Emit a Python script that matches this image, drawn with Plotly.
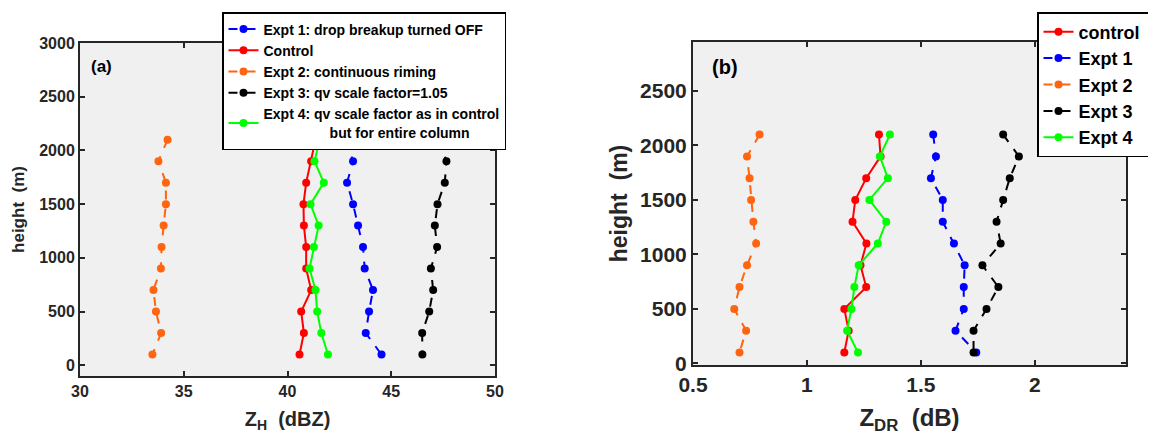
import plotly.graph_objects as go

# ---------------- data ----------------
heights = [2100, 1900, 1700, 1500, 1300, 1100, 900, 700, 500, 300, 100]

# Panel (a): Z_H (dBZ)
zh_expt1 = [42.80, 43.16, 42.87, 43.16, 43.40, 43.64, 43.72, 44.12, 43.93, 43.77, 44.53]
zh_control = [41.35, 41.14, 40.90, 40.77, 40.79, 40.90, 40.90, 41.14, 40.66, 40.79, 40.58]
zh_expt2 = [34.22, 33.78, 34.14, 34.14, 34.03, 33.93, 33.90, 33.54, 33.66, 33.91, 33.49]
zh_expt3 = [47.31, 47.66, 47.58, 47.23, 47.10, 47.21, 46.91, 47.02, 46.83, 46.49, 46.50]
zh_expt4 = [41.55, 41.30, 41.75, 41.11, 41.50, 41.27, 41.06, 41.35, 41.43, 41.63, 41.95]

# Panel (b): Z_DR (dB)
zdr_control = [1.316, 1.323, 1.260, 1.212, 1.200, 1.261, 1.235, 1.260, 1.164, 1.183, 1.164]
zdr_expt1 = [1.554, 1.566, 1.544, 1.596, 1.596, 1.645, 1.692, 1.688, 1.688, 1.652, 1.743]
zdr_expt2 = [0.792, 0.737, 0.748, 0.755, 0.765, 0.777, 0.737, 0.704, 0.681, 0.733, 0.704]
zdr_expt3 = [1.861, 1.930, 1.890, 1.861, 1.832, 1.850, 1.770, 1.840, 1.788, 1.731, 1.731]
zdr_expt4 = [1.364, 1.320, 1.355, 1.274, 1.348, 1.311, 1.227, 1.208, 1.195, 1.176, 1.224]

NB = "\u00a0"
names_a = ["Expt 1: drop breakup turned OFF", "Control", "Expt 2: continuous riming",
           "Expt 3: qv scale factor=1.05",
           "Expt 4: qv scale factor as in control<br>" + NB * 17 + "but for entire column"]
names_b = ["control" + NB * 3, "Expt 1", "Expt 2", "Expt 3", "Expt 4"]

xticks_a = [30, 35, 40, 45, 50]
yticks_a = [0, 500, 1000, 1500, 2000, 2500, 3000]
xticks_b = [0.5, 1, 1.5, 2]
yticks_b = [0, 500, 1000, 1500, 2000, 2500]

RED, BLUE, ORANGE, BLACK, GREEN = "#ff0000", "#0000ff", "#ff6410", "#000000", "#00ff00"
FONT = "Liberation Sans, Arial, sans-serif"
AX = "#262626"

fig = go.Figure()

def add(x, name, color, dash, xa, ya, legend):
    fig.add_trace(go.Scatter(
        x=x, y=heights, name=name, mode="lines+markers",
        line=dict(color=color, width=2, dash=dash),
        marker=dict(color=color, size=8, symbol="circle"),
        xaxis=xa, yaxis=ya, legend=legend))

add(zh_expt1, names_a[0], BLUE, "dash", "x", "y", "legend")
add(zh_control, names_a[1], RED, "solid", "x", "y", "legend")
add(zh_expt2, names_a[2], ORANGE, "dash", "x", "y", "legend")
add(zh_expt3, names_a[3], BLACK, "dash", "x", "y", "legend")
add(zh_expt4, names_a[4], GREEN, "solid", "x", "y", "legend")

add(zdr_control, names_b[0], RED, "solid", "x2", "y2", "legend2")
add(zdr_expt1, names_b[1], BLUE, "dash", "x2", "y2", "legend2")
add(zdr_expt2, names_b[2], ORANGE, "dash", "x2", "y2", "legend2")
add(zdr_expt3, names_b[3], BLACK, "dash", "x2", "y2", "legend2")
add(zdr_expt4, names_b[4], GREEN, "solid", "x2", "y2", "legend2")

# page has an 8px body margin; map target page pixels to paper fractions
OFF = 8
W, H = 1156 - OFF, 439 - OFF
def fx(px):
    return (px - OFF) / W
def fy(py):
    return (439 - py) / H

def axis(domain, rng, tickvals, size, anchor, title, tsize, standoff):
    return dict(domain=domain, range=rng, tickvals=tickvals, ticks="inside", ticklen=5,
                tickwidth=1.5, tickcolor=AX, showline=True, linecolor=AX, linewidth=2,
                mirror="ticks", showgrid=False, zeroline=False, anchor=anchor,
                automargin=False,
                tickfont=dict(family=FONT, size=size, color=AX, weight="bold"),
                title=dict(text=title, standoff=standoff,
                           font=dict(family=FONT, size=tsize, color=AX, weight="bold")))

fig.update_layout(
    width=W, height=H,
    margin=dict(l=0, r=0, t=0, b=0, autoexpand=False),
    paper_bgcolor="white", plot_bgcolor="#f0f0f0",
    xaxis=axis([fx(80), fx(495)], [30, 50], xticks_a, 16, "y",
               "Z<sub>H</sub>" + NB * 2 + "(dBZ)", 20, 13),
    yaxis=axis([fy(376), fy(43)], [-100, 3000], yticks_a, 16, "x",
               "height" + NB * 2 + "(m)", 17, 10),
    xaxis2=axis([fx(693), fx(1126)], [0.5, 2.4], xticks_b, 21, "y2",
                "Z<sub>DR</sub>" + NB * 2 + "(dB)", 24, 14),
    yaxis2=axis([fy(365), fy(42)], [-15, 2950], yticks_b, 21, "x2",
                "height" + NB * 2 + "(m)", 23, 6),
    legend=dict(x=fx(222), y=fy(12), xanchor="left", yanchor="top",
                bgcolor="white", bordercolor="#000000", borderwidth=1.5,
                font=dict(family=FONT, size=14, color="#000000", weight="bold"),
                traceorder="normal", tracegroupgap=0),
    legend2=dict(x=fx(1037), y=fy(12), xanchor="left", yanchor="top",
                 bgcolor="white", bordercolor="#000000", borderwidth=1.5,
                 font=dict(family=FONT, size=18, color="#000000", weight="bold"),
                 traceorder="normal", tracegroupgap=0),
    annotations=[
        dict(text="(a)", x=fx(101), y=fy(67), xref="paper", yref="paper",
             xanchor="center", yanchor="middle", showarrow=False,
             font=dict(family=FONT, size=17, color="#000000", weight="bold")),
        dict(text="(b)", x=fx(725), y=fy(67), xref="paper", yref="paper",
             xanchor="center", yanchor="middle", showarrow=False,
             font=dict(family=FONT, size=20, color="#000000", weight="bold")),
    ],
)

fig.write_html("out.html")
